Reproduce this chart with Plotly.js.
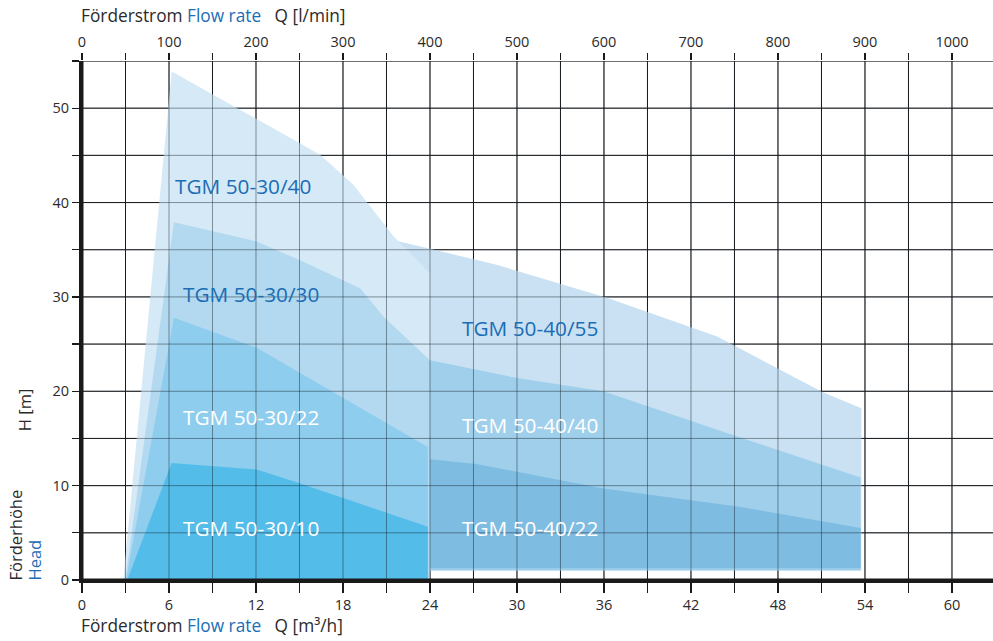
<!DOCTYPE html>
<html>
<head>
<meta charset="utf-8">
<script src="https://cdn.plot.ly/plotly-3.0.1.min.js"></script>
<style>html,body{margin:0;padding:0;background:#fff;}#chart{width:993px;height:641px;}</style>
</head>
<body>
<div id="chart"></div>
<script>
// ---- data (Q in m³/h, H in m) ----
const seriesNames = ["TGM 50-40/55", "TGM 50-40/40", "TGM 50-40/22", "TGM 50-30/40", "TGM 50-30/30", "TGM 50-30/22", "TGM 50-30/10"];

const q_4055 = [21.5, 21.5, 24.0, 28.6, 36.2, 43.8, 51.1, 53.75, 53.75];
const h_4055 = [1.0, 36.0, 35.1, 33.4, 29.9, 25.8, 19.9, 18.2, 1.0];

const q_4040 = [24.0, 24.0, 30.0, 35.95, 45.2, 53.7, 53.7];
const h_4040 = [1.0, 23.3, 21.4, 20.0, 15.2, 10.85, 1.0];

const q_4022 = [24.0, 24.0, 27.2, 35.95, 45.2, 53.7, 53.7];
const h_4022 = [1.25, 12.8, 12.3, 9.7, 7.8, 5.5, 1.25];

const q_3040 = [2.85, 6.19, 16.4, 18.7, 21.5, 24.0, 24.0];
const h_3040 = [0.1, 53.9, 45.1, 41.9, 36.4, 32.5, 0.1];

const q_3030 = [3.0, 6.34, 12.0, 15.0, 19.2, 20.8, 24.0, 24.0];
const h_3030 = [0.1, 37.9, 35.9, 33.9, 30.9, 27.9, 23.3, 0.1];

const q_3022 = [3.05, 6.34, 12.05, 16.9, 23.85, 23.85];
const h_3022 = [0.1, 27.8, 24.6, 20.3, 14.1, 0.1];

const q_3010 = [3.15, 6.18, 12.05, 15.0, 23.85, 23.85];
const h_3010 = [0.1, 12.4, 11.7, 10.25, 5.65, 0.1];

const xTickVals = [0, 3, 6, 9, 12, 15, 18, 21, 24, 27, 30, 33, 36, 39, 42, 45, 48, 51, 54, 57, 60, 63];
const xTickText = ["0", "", "6", "", "12", "", "18", "", "24", "", "30", "", "36", "", "42", "", "48", "", "54", "", "60", ""];
const topTickVals = [0, 50, 100, 150, 200, 250, 300, 350, 400, 450, 500, 550, 600, 650, 700, 750, 800, 850, 900, 950, 1000, 1050];
const topTickText = ["0", "", "100", "", "200", "", "300", "", "400", "", "500", "", "600", "", "700", "", "800", "", "900", "", "1000", ""];
const yTickVals = [0, 5, 10, 15, 20, 25, 30, 35, 40, 45, 50, 55];
const yTickText = ["0", "", "10", "", "20", "", "30", "", "40", "", "50", ""];

// ---- styling ----
const FONT = "Open Sans, Noto Sans, sans-serif";
const DARK = "#2a2a2a";
const BLUE = "#1b6db5";
const fills = ["#c9e1f2", "#9fcfeb", "#7fbce2", "#d5e9f6", "#b2d9f0", "#8ecdee", "#53bce9"];
const qs = [q_4055, q_4040, q_4022, q_3040, q_3030, q_3022, q_3010];
const hs = [h_4055, h_4040, h_4022, h_3040, h_3030, h_3022, h_3010];

const XMAX = 62.83, YMAX = 55;

const traces = qs.map((q, i) => ({
  type: "scatter", mode: "lines", x: q, y: hs[i], name: seriesNames[i],
  fill: "toself", fillcolor: fills[i], line: {width: 0, color: fills[i]},
  hoverinfo: "name", showlegend: false
}));
// invisible trace so the top (l/min) axis is drawn
traces.push({type: "scatter", mode: "markers", x: [0], y: [0], xaxis: "x2", yaxis: "y",
  marker: {opacity: 0}, hoverinfo: "skip", showlegend: false});

// grid: solid lines below the areas, translucent copies above them
const shapes = [];
const gridX = xTickVals.filter(v => v > 0 && v <= XMAX);
const gridY = yTickVals.filter(v => v > 0);
[["below", "#1a1a1a"], ["above", "rgba(20,30,40,0.45)"]].forEach(([layer, col]) => {
  gridX.forEach(v => shapes.push({type: "line", layer: layer, xref: "x", yref: "paper",
    x0: v, x1: v, y0: 0, y1: 1, line: {color: col, width: 1}}));
  gridY.forEach(v => shapes.push({type: "line", layer: layer, xref: "paper", yref: "y",
    x0: 0, x1: 1, y0: v, y1: v, line: {color: col, width: 1}}));
});
// axis line extensions
shapes.push({type: "line", layer: "above", xref: "x", x0: 0, x1: 0, yref: "y", ysizemode: "pixel", yanchor: 0,
  y0: -11, y1: 526, line: {color: "#1a1a1a", width: 3}});
shapes.push({type: "line", layer: "above", yref: "y", y0: 0, y1: 0, xref: "x", xsizemode: "pixel", xanchor: 0,
  x0: -6, x1: 920, line: {color: "#1a1a1a", width: 3}});

const annotations = [
  {text: "TGM 50-30/40", x: 6.3, y: 41.8, color: BLUE},
  {text: "TGM 50-30/30", x: 6.85, y: 30.3, color: BLUE},
  {text: "TGM 50-30/22", x: 6.85, y: 17.3, color: "#ffffff"},
  {text: "TGM 50-30/10", x: 6.85, y: 5.5, color: "#ffffff"},
  {text: "TGM 50-40/55", x: 26.1, y: 26.7, color: BLUE},
  {text: "TGM 50-40/40", x: 26.1, y: 16.4, color: "#ffffff"},
  {text: "TGM 50-40/22", x: 26.1, y: 5.5, color: "#ffffff"}
].map(a => ({xref: "x", yref: "y", x: a.x, y: a.y, text: a.text, showarrow: false, xanchor: "left", yanchor: "middle",
  font: {family: FONT, size: 20.8, color: a.color}}));

annotations.push(
  {xref: "paper", yref: "paper", x: 0, y: 1, xanchor: "left", yanchor: "middle", yshift: 46, xshift: -3, showarrow: false,
   text: "Förderstrom <span style='color:" + BLUE + "'>Flow rate</span>   Q [l/min]", font: {family: FONT, size: 17.3, color: DARK}},
  {xref: "paper", yref: "paper", x: 0, y: 0, xanchor: "left", yanchor: "middle", yshift: -45, xshift: -3, showarrow: false,
   text: "Förderstrom <span style='color:" + BLUE + "'>Flow rate</span>   Q [m³/h]", font: {family: FONT, size: 17.3, color: DARK}},
  {xref: "paper", yref: "y", x: 0, y: 0, xanchor: "center", yanchor: "bottom", xshift: -67, yshift: -3, textangle: -90, showarrow: false,
   text: "Förderhöhe", font: {family: FONT, size: 16.5, color: DARK}},
  {xref: "paper", yref: "y", x: 0, y: 0, xanchor: "center", yanchor: "bottom", xshift: -48, yshift: -3, textangle: -90, showarrow: false,
   text: "Head", font: {family: FONT, size: 16.5, color: BLUE}},
  {xref: "paper", yref: "y", x: 0, y: 18.0, xanchor: "center", yanchor: "middle", xshift: -58, textangle: -90, showarrow: false,
   text: "H [m]", font: {family: FONT, size: 16.5, color: DARK}}
);

const tickFont = {family: FONT, size: 14.5, color: DARK};
const layout = {
  width: 993, height: 641,
  margin: {l: 82, r: 0, t: 61, b: 61, pad: 0},
  paper_bgcolor: "#ffffff", plot_bgcolor: "#ffffff",
  showlegend: false,
  xaxis: {range: [0, XMAX], tickmode: "array", tickvals: xTickVals, ticktext: xTickText,
    ticks: "outside", ticklen: 10, tickwidth: 1.2, tickcolor: "#1a1a1a", tickfont: tickFont,
    showgrid: false, zeroline: false,
    showline: true, linecolor: "#1a1a1a", linewidth: 3, fixedrange: true},
  xaxis2: {overlaying: "x", side: "top", anchor: "y", range: [0, XMAX * 1000 / 60], tickmode: "array",
    tickvals: topTickVals, ticktext: topTickText, ticks: "outside", ticklen: 7, tickwidth: 1.2, tickcolor: "#1a1a1a",
    tickfont: tickFont, showgrid: false, zeroline: false, showline: false, fixedrange: true},
  yaxis: {range: [0, YMAX], tickmode: "array", tickvals: yTickVals, ticktext: yTickText,
    ticks: "outside", ticklen: 7, tickwidth: 1.2, tickcolor: "#1a1a1a", tickfont: tickFont,
    showgrid: false, zeroline: false,
    showline: true, linecolor: "#1a1a1a", linewidth: 3, fixedrange: true},
  shapes: shapes,
  annotations: annotations
};

Plotly.newPlot("chart", traces, layout, {displayModeBar: false, staticPlot: true});
</script>
</body>
</html>
